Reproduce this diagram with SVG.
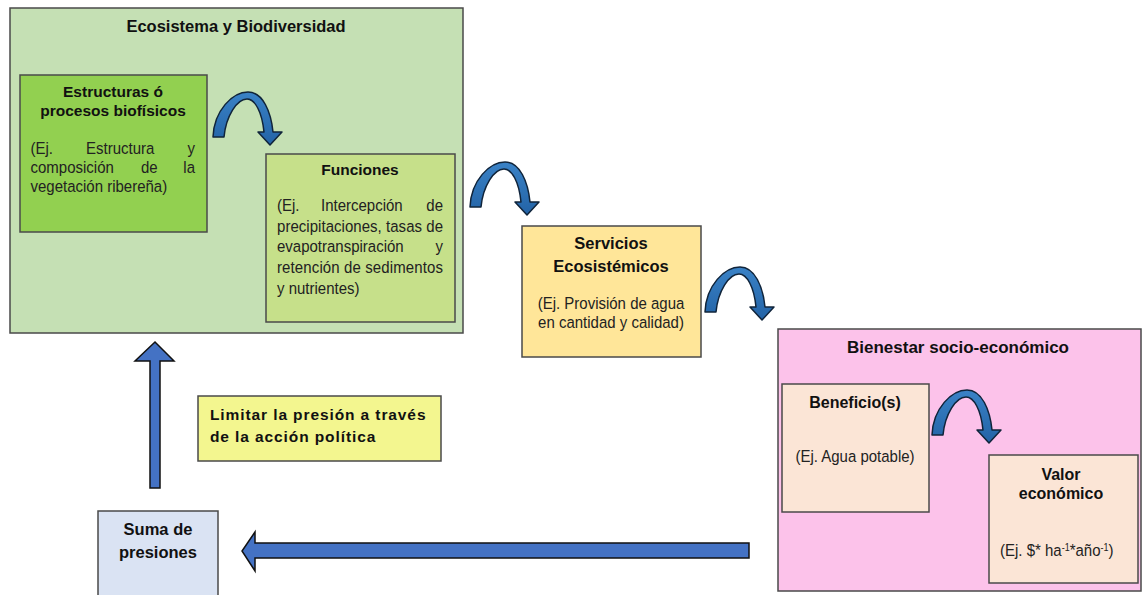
<svg xmlns="http://www.w3.org/2000/svg" width="1142" height="595" viewBox="0 0 1142 595">
<defs>
<style>
.box{stroke:#4a4a4a;stroke-width:1.5}
.t{font-family:"Liberation Sans",Arial,sans-serif;font-weight:bold;fill:#111;text-anchor:middle}
.b{font-family:"Liberation Sans",Arial,sans-serif;font-size:15px;fill:#222}
.c{text-anchor:middle}
.e{text-anchor:end}
.arr{fill:#4472c4;stroke:#111;stroke-width:1.5;stroke-linejoin:miter}
.carr{fill:url(#cg);stroke:#10243a;stroke-width:1.5;stroke-linejoin:round}
</style>
<linearGradient id="cg" x1="0" y1="0" x2="0" y2="1">
<stop offset="0" stop-color="#3a82c6"/>
<stop offset="1" stop-color="#2363a6"/>
</linearGradient>
<path id="curve" class="carr" d="M0,45 C1,18 20,0 35,0 C50,0 58,20 60,40 L69,40 L57,53 L45,40 L51,40 C49,20 42,7 34,7 C24,7 13,24 11,45 Z"/>
</defs>

<g id="ecosistema">
<rect class="box" x="10" y="8" width="453" height="325" fill="#c5e0b4"/>
<text class="t" x="236" y="32" font-size="16.5">Ecosistema y Biodiversidad</text>
</g>

<g id="estructuras">
<rect class="box" x="20" y="75" width="187" height="157" fill="#92d050"/>
<text class="t" x="113" y="97" font-size="15.5">Estructuras ó</text>
<text class="t" x="113" y="116" font-size="15.5">procesos biofísicos</text>
<g transform="translate(0,154) scale(1,1.15)">
<text class="b" x="30.5" y="0">(Ej.</text>
<text class="b" x="86" y="0">Estructura</text>
<text class="b e" x="195" y="0">y</text>
</g>
<g transform="translate(0,173) scale(1,1.15)">
<text class="b" x="30.5" y="0">composición</text>
<text class="b" x="141" y="0">de</text>
<text class="b e" x="195" y="0">la</text>
</g>
<text class="b" x="30.5" y="0" transform="translate(0,192) scale(1,1.15)">vegetación ribereña)</text>
</g>

<g id="funciones">
<rect class="box" x="266" y="154" width="189" height="168" fill="#c6e08a"/>
<text class="t" x="360" y="175" font-size="15.5">Funciones</text>
<g transform="translate(0,211) scale(1,1.15)">
<text class="b" x="277" y="0">(Ej.</text>
<text class="b" x="321" y="0">Intercepción</text>
<text class="b e" x="443" y="0">de</text>
</g>
<text class="b" x="277" y="0" textLength="166" transform="translate(0,232) scale(1,1.15)">precipitaciones, tasas de</text>
<g transform="translate(0,252) scale(1,1.15)">
<text class="b" x="277" y="0">evapotranspiración</text>
<text class="b e" x="443" y="0">y</text>
</g>
<text class="b" x="277" y="0" textLength="166" transform="translate(0,273) scale(1,1.15)">retención de sedimentos</text>
<text class="b" x="277" y="0" transform="translate(0,294) scale(1,1.15)">y nutrientes)</text>
</g>

<g id="servicios">
<rect class="box" x="522" y="226" width="179" height="131" fill="#ffe699"/>
<text class="t" x="611" y="249" font-size="16.5">Servicios</text>
<text class="t" x="611" y="272" font-size="16.5">Ecosistémicos</text>
<text class="b c" x="611" y="0" transform="translate(0,309) scale(1,1.15)">(Ej. Provisión de agua</text>
<text class="b c" x="611" y="0" transform="translate(0,328) scale(1,1.15)">en cantidad y calidad)</text>
</g>

<g id="bienestar">
<rect class="box" x="778" y="329" width="363" height="262" fill="#fcc2ea"/>
<text class="t" x="958" y="353" font-size="17">Bienestar socio-económico</text>
</g>

<g id="beneficio">
<rect class="box" x="782" y="384" width="147" height="128" fill="#fbe5d6"/>
<text class="t" x="855" y="408" font-size="16">Beneficio(s)</text>
<text class="b c" x="855" y="0" transform="translate(0,462) scale(1,1.15)">(Ej. Agua potable)</text>
</g>

<g id="valor">
<rect class="box" x="989" y="455" width="149" height="128" fill="#fbe5d6"/>
<text class="t" x="1061" y="480" font-size="16">Valor</text>
<text class="t" x="1061" y="499" font-size="16">económico</text>
<text class="b" x="1000" y="0" transform="translate(0,556) scale(1,1.15)">(Ej. $* ha<tspan font-size="9" dy="-4">-1</tspan><tspan dy="4">*año</tspan><tspan font-size="9" dy="-4">-1</tspan><tspan dy="4">)</tspan></text>
</g>

<g id="suma">
<rect class="box" x="98" y="511" width="120" height="92" fill="#dae3f3"/>
<text class="t" x="158" y="535" font-size="16.5">Suma de</text>
<text class="t" x="158" y="558" font-size="16.5">presiones</text>
</g>

<g id="limitar">
<rect class="box" x="198" y="396" width="243" height="65" fill="#f3f68f"/>
<text class="t" x="210" y="420" font-size="15.5" letter-spacing="0.9" style="text-anchor:start">Limitar la presión a través</text>
<text class="t" x="210" y="442" font-size="15.5" letter-spacing="0.9" style="text-anchor:start">de la acción política</text>
</g>

<g id="connectors">
<use href="#curve" transform="translate(213,92)"/>
<use href="#curve" transform="translate(470,162)"/>
<use href="#curve" transform="translate(705,267)"/>
<use href="#curve" transform="translate(932,390)"/>
<polygon class="arr" points="150,488 160,488 160,361 174,361 155,342 135,361 150,361"/>
<polygon class="arr" points="749,543 749,558 255,558 255,571 242,551 255,532 255,543"/>
</g>
</svg>
